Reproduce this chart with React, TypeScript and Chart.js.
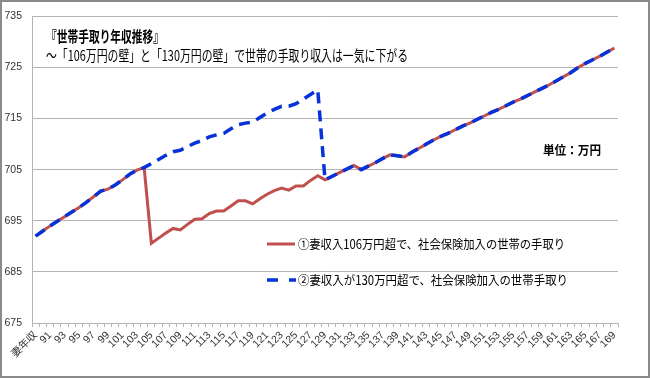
import React, { useEffect, useRef } from 'react';
import { Chart, registerables } from 'chart.js';

Chart.register(...registerables);

const categories = [
  '妻年収', '90', '91', '92', '93', '94', '95', '96', '97', '98', '99',
  '100', '101', '102', '103', '104', '105', '106', '107', '108', '109',
  '110', '111', '112', '113', '114', '115', '116', '117', '118', '119',
  '120', '121', '122', '123', '124', '125', '126', '127', '128', '129',
  '130', '131', '132', '133', '134', '135', '136', '137', '138', '139',
  '140', '141', '142', '143', '144', '145', '146', '147', '148', '149',
  '150', '151', '152', '153', '154', '155', '156', '157', '158', '159',
  '160', '161', '162', '163', '164', '165', '166', '167', '168', '169',
];

// ① 106万円超で社会保険加入
const takeHome106 = [
  692.0, 693.0, 694.0, 694.9, 695.8, 696.7, 697.6, 698.6, 699.7, 700.8,
  701.2, 702.0, 703.0, 704.1, 704.9, 705.4, 690.6, 691.6, 692.6, 693.5,
  693.2, 694.3, 695.3, 695.4, 696.4, 696.9, 696.9, 697.9, 698.9, 698.9,
  698.3, 699.3, 700.2, 700.9, 701.4, 701.0, 701.8, 701.8, 702.9, 703.8,
  703.0, 703.7, 704.4, 705.1, 705.8, 705.0, 705.7, 706.4, 707.2, 707.9,
  707.7, 707.5, 708.4, 709.2, 710.0, 710.8, 711.5, 712.1, 712.8, 713.5,
  714.1, 714.8, 715.5, 716.2, 716.8, 717.5, 718.2, 718.8, 719.5, 720.2,
  720.9, 721.6, 722.4, 723.2, 724.0, 725.0, 725.8, 726.5, 727.2, 728.0,
  728.8,
];

// ② 130万円超で社会保険加入
const takeHome130 = [
  692.0, 693.0, 694.0, 694.9, 695.8, 696.7, 697.6, 698.6, 699.7, 700.8,
  701.2, 702.0, 703.0, 704.1, 704.9, 705.4, 706.2, 707.0, 707.8, 708.5,
  708.8, 709.5, 710.2, 710.7, 711.4, 711.8, 712.1, 713.0, 713.8, 714.1,
  714.3, 715.2, 716.1, 716.8, 717.4, 717.4, 717.9, 718.8, 719.7, 720.6,
  703.0, 703.7, 704.4, 705.1, 705.8, 705.0, 705.7, 706.4, 707.2, 707.9,
  707.7, 707.5, 708.4, 709.2, 710.0, 710.8, 711.5, 712.1, 712.8, 713.5,
  714.1, 714.8, 715.5, 716.2, 716.8, 717.5, 718.2, 718.8, 719.5, 720.2,
  720.9, 721.6, 722.4, 723.2, 724.0, 725.0, 725.8, 726.5, 727.2, 728.0,
  728.8,
];

const yMin = 675;
const yMax = 735;
const yStep = 10;

const seriesNames = [
  '①妻収入106万円超で、社会保険加入の世帯の手取り',
  '②妻収入が130万円超で、社会保険加入の世帯手取り',
];
const titleLine1 = '『世帯手取り年収推移』';
const titleLine2 = '～「106万円の壁」と「130万円の壁」で世帯の手取り収入は一気に下がる';
const unitLabel = '単位：万円';

const RED = '#C0504D';
const BLUE = '#0632D8';
const GRID = '#b5b5b5';
const JP = '"Noto Sans CJK JP", "Noto Sans", sans-serif';

const overlayPlugin = {
  id: 'overlay',
  beforeDraw(chart: any) {
    const { ctx, width, height } = chart;
    ctx.save();
    ctx.fillStyle = '#ffffff';
    ctx.fillRect(0, 0, width, height);
    ctx.restore();
  },
  afterDraw(chart: any) {
    const { ctx } = chart;
    ctx.save();
    // outer frame
    ctx.strokeStyle = '#8a8a8a';
    ctx.lineWidth = 2;
    ctx.strokeRect(1, 1, 648, 376);

    ctx.fillStyle = '#000';
    ctx.textAlign = 'left';
    ctx.textBaseline = 'middle';
    ctx.font = `bold 15px ${JP}`;
    ctx.fillText(titleLine1, 46, 36, 118);
    ctx.font = `14.5px ${JP}`;
    ctx.fillText(titleLine2, 46, 55, 362);

    ctx.font = `bold 12.5px ${JP}`;
    ctx.fillText(unitLabel, 543, 150, 58);

    // legend
    ctx.lineCap = 'butt';
    ctx.strokeStyle = RED;
    ctx.lineWidth = 3;
    ctx.beginPath();
    ctx.moveTo(267, 244);
    ctx.lineTo(295, 244);
    ctx.stroke();

    ctx.strokeStyle = BLUE;
    ctx.lineWidth = 3.5;
    ctx.setLineDash([11, 11]);
    ctx.beginPath();
    ctx.moveTo(267, 280);
    ctx.lineTo(296, 280);
    ctx.stroke();
    ctx.setLineDash([]);

    ctx.fillStyle = '#000';
    ctx.font = `12.5px ${JP}`;
    ctx.fillText(seriesNames[0], 298, 244, 267);
    ctx.fillText(seriesNames[1], 298, 280, 270);
    ctx.restore();
  },
};

export default function App() {
  const canvasRef = useRef<HTMLCanvasElement | null>(null);

  useEffect(() => {
    const canvas = canvasRef.current;
    if (!canvas) return;
    const chart = new Chart(canvas, {
      type: 'line',
      data: {
        labels: categories,
        datasets: [
          {
            label: seriesNames[0],
            data: takeHome106,
            borderColor: RED,
            backgroundColor: RED,
            borderWidth: 3,
            pointRadius: 0,
            tension: 0,
            fill: false,
            order: 1,
          },
          {
            label: seriesNames[1],
            data: takeHome130,
            borderColor: BLUE,
            backgroundColor: BLUE,
            borderWidth: 3.5,
            borderDash: [11, 7],
            borderCapStyle: 'butt',
            pointRadius: 0,
            tension: 0,
            fill: false,
            order: 0,
          },
        ],
      },
      options: {
        animation: false,
        responsive: false,
        devicePixelRatio: 1,
        layout: { padding: { top: 15, right: 32, left: 0, bottom: 0 } },
        plugins: {
          legend: { display: false },
          tooltip: { enabled: false },
          title: { display: false },
        },
        scales: {
          x: {
            type: 'category',
            offset: true,
            grid: {
              display: true,
              drawOnChartArea: false,
              drawTicks: true,
              tickLength: 4,
              color: GRID,
              offset: true,
            },
            border: { display: true, color: GRID, width: 1 },
            ticks: {
              autoSkip: false,
              minRotation: 45,
              maxRotation: 45,
              padding: 2,
              color: '#333',
              font: { family: '"Liberation Sans", "Noto Sans CJK JP", sans-serif', size: 10.5 },
              callback: (_v: any, i: number) => (i % 2 === 0 ? categories[i] : ''),
            },
            afterFit: (s: any) => {
              s.height = 55;
            },
          },
          y: {
            min: yMin,
            max: yMax,
            ticks: {
              stepSize: yStep,
              padding: 10,
              color: '#333',
              font: { family: '"Liberation Sans", sans-serif', size: 10.5 },
            },
            grid: { color: GRID, drawTicks: false },
            border: { display: true, color: GRID, width: 1 },
            afterFit: (s: any) => {
              s.width = 32;
            },
          },
        },
      },
      plugins: [overlayPlugin],
    } as any);
    return () => chart.destroy();
  }, []);

  return (
    <div style={{ position: 'fixed', left: 0, top: 0, width: 650, height: 378 }}>
      <canvas ref={canvasRef} width={650} height={378} style={{ display: 'block', width: 650, height: 378 }} />
    </div>
  );
}
